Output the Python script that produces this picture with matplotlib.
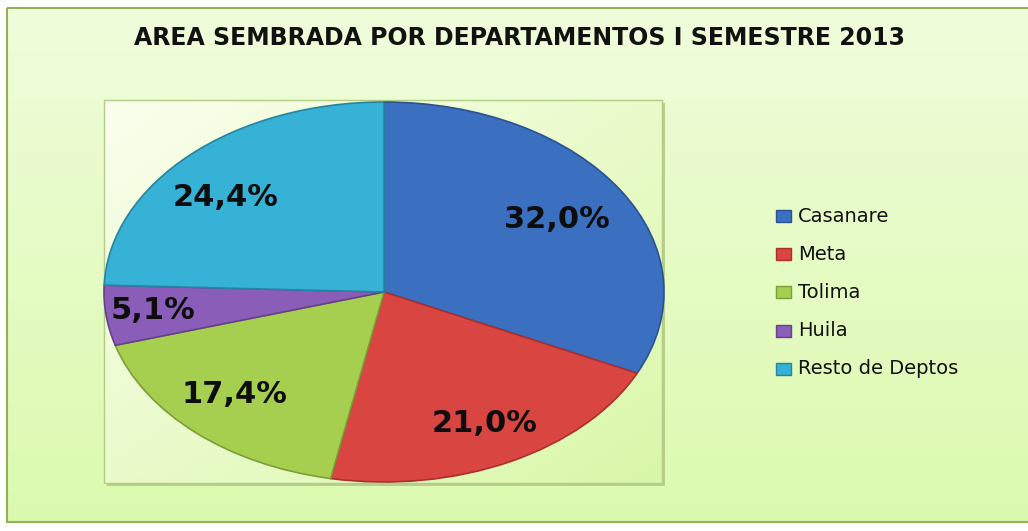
import numpy as np
import matplotlib.pyplot as plt
from matplotlib.patches import Rectangle

departamentos = ["Casanare", "Meta", "Tolima", "Huila", "Resto de Deptos"]
porcentajes = [32.0, 21.0, 17.4, 5.1, 24.4]
colores = ["#3b70c0", "#d94541", "#a6cf50", "#8a5db9", "#35b2d6"]
bordes = ["#2a5290", "#a8302d", "#7d9c3a", "#653f8c", "#2684a0"]
titulo = "AREA SEMBRADA POR DEPARTAMENTOS I SEMESTRE 2013"

W, H = 1028, 531
fig = plt.figure(figsize=(W / 100, H / 100), dpi=100)
fig.patch.set_facecolor("white")

# chart area background (vertical gradient) with border
bg = fig.add_axes([0, 0, 1, 1], zorder=0)
bg.set_xlim(0, W)
bg.set_ylim(H, 0)
bg.axis("off")
grad = np.linspace(0, 1, 256).reshape(-1, 1)
top = np.array([0.94, 0.99, 0.86])
bot = np.array([0.86, 0.98, 0.68])
img = top + (bot - top) * grad[..., None]
bg.imshow(img, extent=[7, W + 5, 522, 8], aspect="auto", zorder=0)
bg.add_patch(Rectangle((7, 8), W, 514, fill=False, ec="#93b05a", lw=1.5, zorder=1))

# plot area with diagonal gradient
x0, y0, x1, y1 = 104, 100, 662, 483
yy, xx = np.mgrid[0:1:128j, 0:1:128j]
t = (xx + yy) / 2
pa_top = np.array([0.98, 1.0, 0.93])
pa_bot = np.array([0.85, 0.97, 0.66])
img2 = pa_top + (pa_bot - pa_top) * t[..., None]
bg.add_patch(Rectangle((x0 + 3, y0 + 3), x1 - x0, y1 - y0, fc="#b8cf8a", ec="none", zorder=1.5))
bg.imshow(img2, extent=[x0, x1, y1, y0], aspect="auto", zorder=2)
bg.add_patch(Rectangle((x0, y0), x1 - x0, y1 - y0, fill=False, ec="#b5cc86", lw=1, zorder=3))

bg.text(520, 38, titulo, ha="center", va="center", fontsize=17,
        fontweight="bold", color="#111111")

# pie (elliptical)
px0, py0, px1, py1 = 104, 102, 664, 482
ax = fig.add_axes([px0 / W, 1 - py1 / H, (px1 - px0) / W, (py1 - py0) / H], zorder=2)
etiquetas = [f"{v:.1f}%".replace(".", ",") for v in porcentajes]
wedges, texts = ax.pie(porcentajes, colors=colores, startangle=90, counterclock=False,
                       radius=1, labels=etiquetas, labeldistance=0.78,
                       wedgeprops=dict(linewidth=1.2),
                       textprops=dict(fontsize=22, fontweight="bold", color="#0d0d0d",
                                      ha="center", va="center"))
# per-label distance / angle nudge to follow the original placement
dist = [0.73, 0.77, 0.75, 0.83, 0.76]
nudge = [0, 1, -3, -1, 4]
for w, b, txt, d, n in zip(wedges, bordes, texts, dist, nudge):
    w.set_edgecolor(b)
    ang = np.deg2rad((w.theta1 + w.theta2) / 2 + n)
    txt.set_position((d * np.cos(ang), d * np.sin(ang) - 0.01))
ax.set_aspect("auto")
ax.set_xlim(-1.0, 1.0)
ax.set_ylim(-1.0, 1.0)
ax.axis("off")

# legend
for i, (nombre, c, b) in enumerate(zip(departamentos, colores, bordes)):
    yl = 216 + i * 38.2
    bg.add_patch(Rectangle((776, yl - 6), 15, 12, fc=c, ec=b, lw=1, zorder=4))
    bg.text(798, yl, nombre, ha="left", va="center", fontsize=14, color="#111111", zorder=4)

fig.savefig("out.png", dpi=100)
